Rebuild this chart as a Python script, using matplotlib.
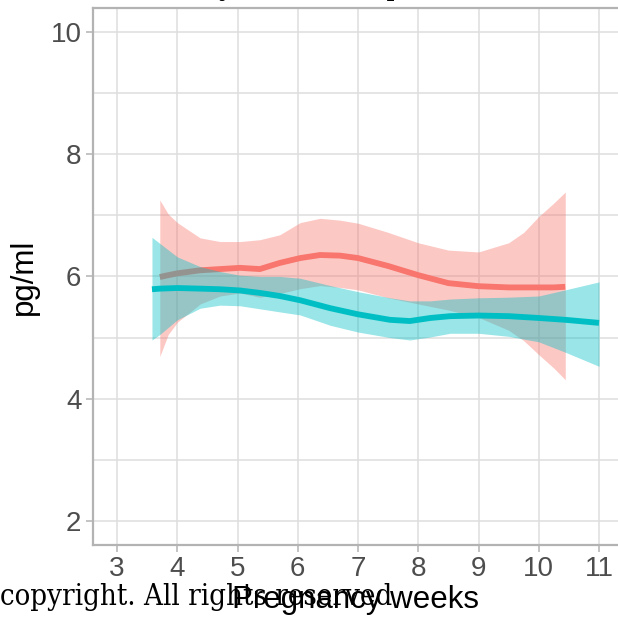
import matplotlib
matplotlib.use("Agg")
import matplotlib.pyplot as plt
from matplotlib.ticker import MultipleLocator
from matplotlib.textpath import TextPath
from matplotlib.font_manager import FontProperties

# ---- data ----
weeks_red = [3.71, 3.85, 4.0, 4.38, 4.71, 5.04, 5.37, 5.7, 6.04, 6.37, 6.7, 7.0, 7.5, 8.0, 8.5, 9.0, 9.5, 9.75, 10.0, 10.25, 10.44]
mean_red  = [5.99, 6.02, 6.05, 6.10, 6.12, 6.14, 6.12, 6.22, 6.30, 6.35, 6.34, 6.30, 6.17, 6.02, 5.89, 5.84, 5.82, 5.82, 5.82, 5.82, 5.83]
upper_red = [7.25, 7.02, 6.88, 6.63, 6.57, 6.57, 6.60, 6.68, 6.88, 6.95, 6.92, 6.87, 6.72, 6.55, 6.43, 6.40, 6.55, 6.72, 6.98, 7.20, 7.38]
lower_red = [4.69, 5.05, 5.25, 5.55, 5.68, 5.73, 5.66, 5.72, 5.80, 5.85, 5.82, 5.78, 5.65, 5.55, 5.45, 5.33, 5.12, 4.95, 4.72, 4.50, 4.31]

weeks_teal = [3.58, 3.71, 4.0, 4.38, 4.71, 5.04, 5.37, 5.7, 6.04, 6.54, 7.0, 7.53, 7.86, 8.2, 8.53, 9.0, 9.5, 10.0, 10.44, 11.0]
mean_teal  = [5.79, 5.80, 5.81, 5.80, 5.79, 5.77, 5.73, 5.68, 5.61, 5.48, 5.38, 5.29, 5.27, 5.32, 5.35, 5.36, 5.35, 5.32, 5.29, 5.24]
upper_teal = [6.64, 6.54, 6.32, 6.16, 6.08, 6.02, 6.00, 6.00, 5.97, 5.85, 5.75, 5.65, 5.60, 5.60, 5.63, 5.65, 5.66, 5.68, 5.78, 5.91]
lower_teal = [4.96, 5.05, 5.29, 5.48, 5.53, 5.52, 5.47, 5.42, 5.37, 5.20, 5.09, 5.00, 4.96, 5.01, 5.07, 5.07, 5.02, 4.93, 4.76, 4.53]

x_ticks = [3, 4, 5, 6, 7, 8, 9, 10, 11]
y_ticks = [2, 4, 6, 8, 10]

RED = "#F8766D"
TEAL = "#00BFC4"
SERIF = ["DejaVu Serif Condensed", "DejaVu Serif"]

fig = plt.figure(figsize=(6.18, 6.20), dpi=100)
ax = fig.add_axes([92.5 / 618, 1 - 545 / 620, 1 - 92.5 / 618, (545 - 8) / 620])

ax.fill_between(weeks_red, lower_red, upper_red, color=RED, alpha=0.4, lw=0, zorder=2)
ax.plot(weeks_red, mean_red, color=RED, lw=4.2, solid_capstyle="butt", zorder=3)
ax.fill_between(weeks_teal, lower_teal, upper_teal, color=TEAL, alpha=0.4, lw=0, zorder=4)
ax.plot(weeks_teal, mean_teal, color=TEAL, lw=4.2, solid_capstyle="butt", zorder=5)

ax.set_xlim(2.593, 11.315)
ax.set_ylim(1.607, 10.39)
ax.set_xticks(x_ticks)
ax.set_yticks(y_ticks)
ax.yaxis.set_minor_locator(MultipleLocator(1))
ax.grid(True, which="major", color="#dedede", lw=1.1, zorder=0)
ax.grid(True, which="minor", axis="y", color="#dedede", lw=1.1, zorder=0)
ax.set_axisbelow(True)

for s in ["left", "bottom", "top"]:
    ax.spines[s].set_color("#b3b3b3")
    ax.spines[s].set_linewidth(1.6)
ax.spines["right"].set_visible(False)

ax.tick_params(axis="both", which="major", colors="#b3b3b3", length=5, width=1.1,
               labelcolor="#4d4d4d", labelsize=20, labelfontfamily="Liberation Sans")
ax.tick_params(axis="x", pad=3)
ax.tick_params(axis="y", pad=3)
ax.tick_params(axis="y", which="minor", length=0)

ax.set_xlabel("Pregnancy weeks", fontsize=22.5, family="Liberation Sans", color="black", labelpad=2)
ax.set_ylabel("pg/ml", fontsize=22.5, family="Liberation Sans", color="black", labelpad=8)

# watermark texts
fig.text(0 / 618, 1 - 605 / 620, "copyright. All rights reserved", family=SERIF,
         fontstretch="condensed", fontsize=21, color="black", ha="left", va="baseline")

top_text = "Made by the lab. Reproduced with consent"
fp = FontProperties(family=SERIF, stretch="condensed", size=21)
# place the text so that the "y" of "by" falls at about x = 222 px
prefix_w = TextPath((0, 0), "Made b", prop=fp).get_extents().width * 100 / 72
fig.text((222 - prefix_w - 6) / 618, 1 + 5 / 620, top_text, family=SERIF,
         fontstretch="condensed", fontsize=21, color="black", ha="left", va="baseline")

fig.savefig("out.png", dpi=100)
